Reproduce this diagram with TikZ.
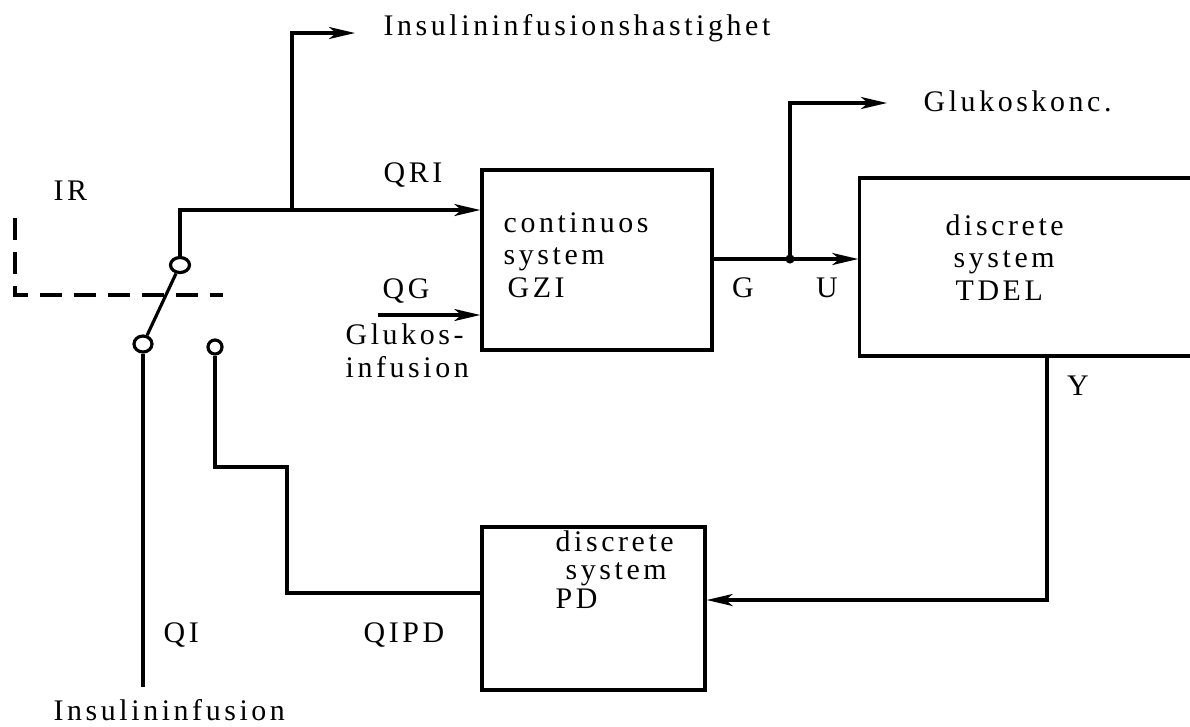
\documentclass[tikz,border=0pt]{standalone}
\usepackage{fontspec}
\setmainfont{Liberation Serif}[LetterSpace=12]
\usetikzlibrary{arrows.meta,shapes.geometric}

\tikzset{
    lbl/.style={font=\fontsize{8.5}{9.2}\selectfont,inner sep=0pt},
    sysbox/.style={rectangle,draw,line width=0.9pt,inner sep=0pt},
    contact/.style={ellipse,draw,line width=0.9pt,inner sep=0pt},
    wire/.style={line width=0.9pt},
    flow/.style={line width=0.9pt,-{Stealth[length=2.6mm,width=1.2mm,inset=0.7mm]}}
}

\begin{document}
\begin{tikzpicture}[x=0.01cm,y=-0.01cm]
\clip (0,0) rectangle (1190,726);
\begin{scope}[every node/.style={sysbox}]
    \node[minimum width=23mm,minimum height=18mm] (GZI) at (597,260) {};
    \node[minimum width=40mm,minimum height=17.8mm] (TDEL) at (1060,267) {};
    \node[minimum width=22.3mm,minimum height=16.3mm] (PD) at (593.5,608.5) {};
\end{scope}
\begin{scope}[every node/.style={contact}]
    \node[minimum width=1.9mm,minimum height=1.5mm] (swU) at (180,265) {};
    \node[minimum width=1.8mm,minimum height=1.6mm] (swL) at (143,344) {};
    \node[minimum width=1.4mm,minimum height=1.4mm] (swR) at (215,347) {};
\end{scope}
\coordinate (jI) at (292,210);
\coordinate (hastEnd) at (355,33);
\coordinate (qgStart) at (378,315);
\coordinate (jG) at (790,259);
\coordinate (glkEnd) at (887,103);
\coordinate (yOut) at (1047,356);
\coordinate (qiEnd) at (143,687);
\coordinate (irTop) at (15,218);
\coordinate (irEnd) at (223,295);
\begin{scope}[every node/.style={lbl,anchor=base west}]
    \node (hastTxt) at (383,35) {Insulininfusionshastighet};
    \node (glkTxt) at (923,111) {Glukoskonc.};
    \node (IRtxt) at (53,200) {IR};
    \node (QRItxt) at (383,182) {QRI};
    \node (QGtxt) at (382,298) {QG};
    \node[align=left] (glkInf) at (345,377) {Glukos-\\infusion};
    \node[anchor=base] (Gtxt) at (743,297) {G};
    \node[anchor=base] (Utxt) at (827,297) {U};
    \node[anchor=base] (Ytxt) at (1078,395) {Y};
    \node (QItxt) at (163,642) {QI};
    \node (QIPDtxt) at (363,642) {QIPD};
    \node (insInf) at (53,720) {Insulininfusion};
    \node[align=left] (GZItxt) at (503,297) {continuos\\system\\\hspace{0.4mm}GZI};
    \node[align=left] (TDELtxt) at (945,300) {discrete\\\hspace{0.8mm}system\\\hspace{1mm}TDEL};
    \node[align=left,font=\fontsize{8.5}{8}\selectfont] (PDtxt) at (555,608) {discrete\\\hspace{1mm}system\\PD};
\end{scope}
\draw[wire] (swU) -- (swL);
\draw[flow] (swU) |- (GZI.west |- 0,210);
\draw[flow] (jI) |- (hastEnd);
\draw[flow] (qgStart) -- (GZI.west |- qgStart);
\draw[flow] (GZI.east |- jG) -- (TDEL.west |- jG);
\fill (jG) circle (1.3pt);
\draw[flow] (jG) |- (glkEnd);
\draw[flow] (yOut) |- (PD.east |- 0,600);
\draw[wire] (swL) -- (qiEnd);
\draw[wire] (swR) |- (287,467) |- (PD.west |- 0,593);
\draw[wire,dash pattern=on 2.2mm off 1.2mm] (irTop) |- (irEnd);
\end{tikzpicture}
\end{document}
